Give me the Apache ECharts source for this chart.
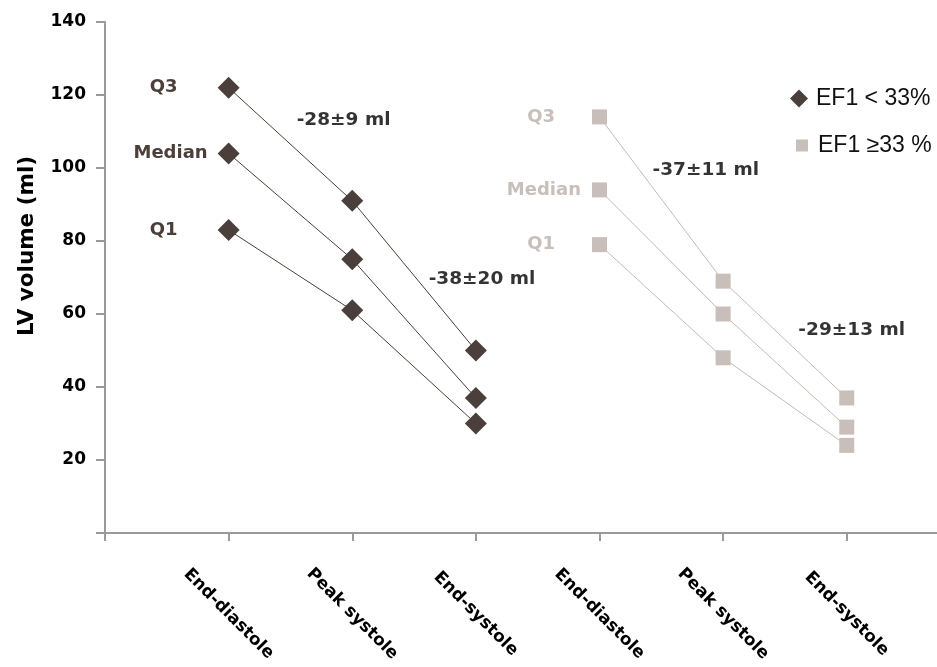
<!DOCTYPE html>
<html>
<head>
<meta charset="utf-8">
<script src="https://cdn.jsdelivr.net/npm/echarts@6/dist/echarts.min.js"></script>
<style>html,body{margin:0;padding:0;background:#fff;}#c{width:937px;height:667px;}</style>
</head>
<body>
<div id="c"></div>
<script>
// ---- data ----
var categories = ['End-diastole', 'Peak systole', 'End-systole', 'End-diastole', 'Peak systole', 'End-systole'];
var yTicks = [0, 20, 40, 60, 80, 100, 120, 140];
var quartileNames = ['Q3', 'Median', 'Q1'];
var groupNames = ['EF1 < 33%', 'EF1 \u226533 %'];
// group 1 (EF1 < 33%) at categories 1..3
var low_Q3 = [122, 91, 50];
var low_Median = [104, 75, 37];
var low_Q1 = [83, 61, 30];
// group 2 (EF1 >= 33%) at categories 4..6
var high_Q3 = [114, 69, 37];
var high_Median = [94, 60, 29];
var high_Q1 = [79, 48, 24];
var changeTexts = ['-28\u00b19 ml', '-38\u00b120 ml', '-37\u00b111 ml', '-29\u00b113 ml'];

// ---- chart ----
var DARK = '#4a3f3a', LIGHT = '#c9bfba';
var BOLD = '"DejaVu Sans", Verdana, sans-serif';
function pairs(vals, startIdx) {
  return vals.map(function (v, i) { return [startIdx + i + 1, v]; });
}
function lineSeries(name, vals, startIdx, qName, color, symbol, size, labelDist, lineColor) {
  return {
    type: 'line', name: name, data: pairs(vals, startIdx),
    symbol: symbol, symbolSize: size, showSymbol: true,
    itemStyle: { color: color },
    lineStyle: { color: lineColor, width: 1 },
    emphasis: { disabled: true },
    label: {
      show: true, position: 'left', distance: labelDist,
      formatter: function (p) { return p.dataIndex === 0 ? qName : ''; },
      color: color, fontFamily: BOLD, fontWeight: 'bold', fontSize: 18
    },
    z: 3
  };
}
var lowSets = [low_Q3, low_Median, low_Q1];
var highSets = [high_Q3, high_Median, high_Q1];
var lowDist = [40, 10, 40];
var highDist = [37, 11, 37];
var series = [];
lowSets.forEach(function (s, i) {
  series.push(lineSeries(groupNames[0], s, 0, quartileNames[i], DARK, 'diamond', 22, lowDist[i], '#4a3f3a'));
});
highSets.forEach(function (s, i) {
  series.push(lineSeries(groupNames[1], s, 3, quartileNames[i], LIGHT, 'rect', 15, highDist[i], '#cbb8b4'));
});
// annotation anchors (layout)
var annoPos = [[1.93, 113.2], [3.05, 69.6], [4.86, 99.5], [6.04, 55.6]];
series.push({
  type: 'scatter', name: 'anno', symbolSize: 0, silent: true,
  data: annoPos,
  label: {
    show: true, position: 'inside',
    formatter: function (p) { return changeTexts[p.dataIndex]; },
    color: '#000', fontFamily: BOLD, fontWeight: 'bold', fontSize: 18.5
  },
  z: 5
});

var chart = echarts.init(document.getElementById('c'));
chart.setOption({
  animation: false,
  backgroundColor: '#fff',
  grid: { left: 105, top: 22, width: 832, height: 511, containLabel: false },
  xAxis: {
    type: 'value', min: 0, max: 6.73, interval: 1,
    splitLine: { show: false },
    axisLine: { show: true, lineStyle: { color: '#9a9a9a', width: 2 } },
    axisTick: { show: true, length: 8, lineStyle: { color: '#9a9a9a', width: 2 } },
    axisLabel: {
      rotate: -45, align: 'center', verticalAlign: 'middle', margin: 81,
      showMaxLabel: false,
      color: '#000', fontFamily: BOLD, fontWeight: 'bold', fontSize: 17,
      formatter: function (v) { return (v >= 1 && v <= categories.length && v === Math.round(v)) ? categories[v - 1] : ''; }
    }
  },
  yAxis: {
    type: 'value', min: yTicks[0], max: yTicks[yTicks.length - 1], interval: 20,
    splitLine: { show: false },
    axisLine: { show: true, lineStyle: { color: '#9a9a9a', width: 2 } },
    axisTick: { show: true, length: 9, lineStyle: { color: '#9a9a9a', width: 2 } },
    axisLabel: {
      margin: 19, color: '#000', fontFamily: BOLD, fontWeight: 'bold', fontSize: 17,
      formatter: function (v) { return v === 0 ? '' : String(v); }
    }
  },
  legend: [
    {
      data: [{ name: groupNames[0], icon: 'diamond' }],
      left: 785, top: 82, itemWidth: 18, itemHeight: 18, selectedMode: false,
      textStyle: { fontFamily: '"Liberation Sans", Arial, sans-serif', fontSize: 23, color: '#111', padding: [0, 0, 0, 3] }
    },
    {
      data: [{ name: groupNames[1], icon: 'rect' }],
      left: 791, top: 129, itemWidth: 12, itemHeight: 12, selectedMode: false,
      textStyle: { fontFamily: '"Liberation Sans", Arial, sans-serif', fontSize: 23, color: '#111', padding: [0, 0, 0, 5] }
    }
  ],
  graphic: [{
    type: 'text', x: 27, y: 246, rotation: Math.PI / 2,
    style: {
      text: 'LV volume (ml)', fill: '#000', font: 'bold 21.5px "DejaVu Sans", Verdana, sans-serif',
      textAlign: 'center', textVerticalAlign: 'middle'
    }
  }],
  series: series
});
</script>
</body>
</html>
